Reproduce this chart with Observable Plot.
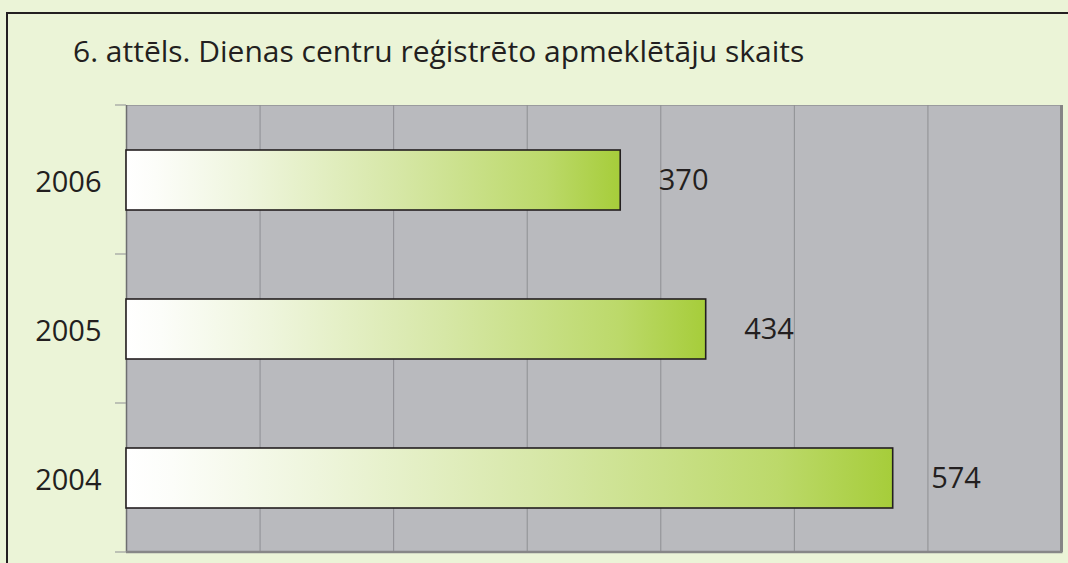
<!DOCTYPE html>
<html><head><meta charset="utf-8">
<script src="https://cdn.jsdelivr.net/npm/d3@7"></script>
<script src="https://cdn.jsdelivr.net/npm/@observablehq/plot@0.6"></script>
<style>
html,body{margin:0;padding:0;background:#EBF4D7;}
#wrap{position:relative;width:1068px;height:563px;overflow:hidden;background:#EBF4D7;font-family:"Open Sans",sans-serif;}
#box{position:absolute;left:6px;top:12px;width:1100px;height:600px;border:2px solid #231F20;box-sizing:border-box;}
#title{position:absolute;left:73px;top:36px;font-size:30px;line-height:30px;color:#231F20;white-space:nowrap;}
#chart{position:absolute;left:0;top:0;}
</style></head>
<body>
<div id="wrap">
  <div id="box"></div>
  <div id="title">6. attēls. Dienas centru reģistrēto apmeklētāju skaits</div>
  <div id="chart"></div>
</div>
<script>
const years = ["2006", "2005", "2004"];
const visitors = [370, 434, 574];
const xTicks = [0, 100, 200, 300, 400, 500, 600, 700];

const data = years.map((y, i) => ({year: y, value: visitors[i]}));

const chart = Plot.plot({
  width: 1068,
  height: 563,
  marginLeft: 126,
  marginRight: 7,
  marginTop: 105,
  marginBottom: 11,
  style: {background: "transparent", fontFamily: "Open Sans, sans-serif", fontSize: "29px", color: "#231F20", overflow: "visible"},
  x: {domain: [xTicks[0], xTicks[xTicks.length - 1]], axis: null},
  y: {domain: years, padding: 0, axis: null},
  marks: [
    Plot.frame({fill: "#B9BABE", stroke: "#9a9b9e", strokeWidth: 1}),
    Plot.ruleX(xTicks.slice(1, -1), {stroke: "#8E8F93", strokeWidth: 1}),
    Plot.ruleX([xTicks[xTicks.length - 1]], {stroke: "#858585", strokeWidth: 3}),
    Plot.ruleX([xTicks[0]], {stroke: "#6E6E70", strokeWidth: 1.5}),
    Plot.barX(data, {x: "value", y: "year", fill: "url(#barGrad)", stroke: "#231F20", strokeWidth: 1.6, insetTop: 45, insetBottom: 44}),
    Plot.text(data, {x: "value", y: "year", text: d => String(d.value), textAnchor: "start", dx: 38, dy: 1, fill: "#231F20", fontSize: 29}),
    Plot.axisY({tickSize: 0, tickPadding: 25, fontSize: 29, fill: "#231F20", dy: 3, label: null})
  ]
});

document.getElementById("chart").appendChild(chart);

const svg = d3.select(chart);
const defs = svg.insert("defs", ":first-child");
const grad = defs.append("linearGradient").attr("id", "barGrad").attr("x1", "0").attr("x2", "1").attr("y1", "0").attr("y2", "0");
[[0, "#ffffff"], [0.06, "#fcfdf9"], [0.25, "#eef5dc"], [0.55, "#d6e7a6"], [0.85, "#bcd96a"], [1, "#a6cd3a"]]
  .forEach(([o, c]) => grad.append("stop").attr("offset", o).attr("stop-color", c));

// category boundary ticks and bottom edge, from the y band scale
const ys = chart.scale("y");
const xs = chart.scale("x");
const y0 = ys.range[0];
const step = ys.step !== undefined ? ys.step : (ys.range[1] - ys.range[0]) / years.length;
const g = svg.append("g");
const xLeft = xs.range[0];
const xRight = xs.range[1];
for (let i = 0; i <= years.length; i++) {
  const yy = y0 + i * step;
  g.append("line").attr("x1", xLeft - 11).attr("x2", xLeft).attr("y1", yy).attr("y2", yy)
    .attr("stroke", "#8E8F93").attr("stroke-width", 1);
}
g.append("line").attr("x1", xLeft).attr("x2", xRight + 1.5)
  .attr("y1", y0 + years.length * step).attr("y2", y0 + years.length * step)
  .attr("stroke", "#878787").attr("stroke-width", 2.5);
</script>
</body></html>
